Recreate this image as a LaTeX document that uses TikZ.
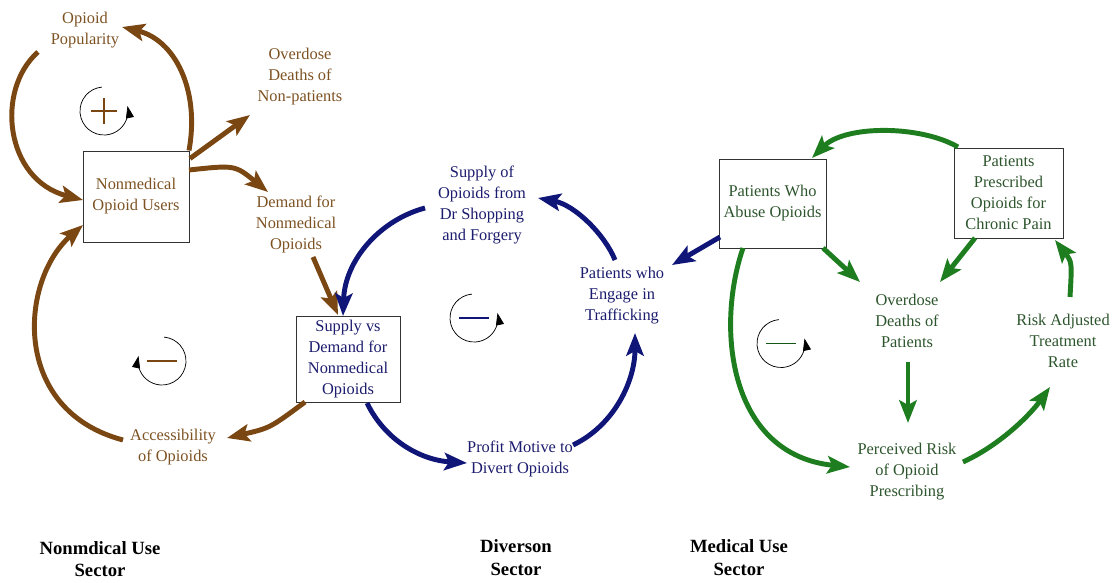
\documentclass[tikz,border=0pt]{standalone}
\usepackage{fontspec}
\setmainfont{Liberation Serif}
\usetikzlibrary{arrows.meta,calc}
\definecolor{brA}{RGB}{122,70,18}
\definecolor{brT}{RGB}{125,82,35}
\definecolor{blA}{RGB}{16,22,120}
\definecolor{blT}{RGB}{28,28,110}
\definecolor{grA}{RGB}{30,125,30}
\definecolor{grT}{RGB}{45,85,45}
\tikzset{
 lbl/.style={align=center,inner sep=0pt,font=\fontsize{12.3}{15.75}\selectfont},
 box/.style={lbl,draw=black!80,line width=0.7pt},
 sec/.style={align=center,inner sep=0pt,font=\fontsize{14}{17}\selectfont\bfseries},
 link/.style={line width=3.7pt,-{Stealth[length=17pt,width=13pt,inset=3.5pt]}},
 loopc/.style={line width=0.55pt,-{Triangle[length=9pt,width=6pt]}},
 sign/.style={line width=1.3pt},
}
\begin{document}
\begin{tikzpicture}[x=0.75pt,y=-0.75pt]
\useasboundingbox (0,0) rectangle (1116,582);
% ---------- nodes ----------
\node[lbl,text=brT] (pop) at (85,30) {Opioid\\Popularity};
\node[lbl,text=brT] (odnp) at (300,77) {Overdose\\Deaths of\\Non-patients};
\node[box,text=brT,minimum width=79.5pt,minimum height=68.25pt] (nou) at (136,196.5) {Nonmedical\\Opioid Users};
\node[lbl,text=brT] (dem) at (296,224) {Demand for\\Nonmedical\\Opioids};
\node[box,text=blT,minimum width=78pt,minimum height=64.5pt] (svd) at (348,359) {Supply vs\\Demand for\\Nonmedical\\Opioids};
\node[lbl,text=brT] (acc) at (173,447) {Accessibility\\of Opioids};
\node[lbl,text=blT] (sup) at (482,204.5) {Supply of\\Opioids from\\Dr Shopping\\and Forgery};
\node[lbl,text=blT] (pwe) at (622,295.5) {Patients who\\Engage in\\Trafficking};
\node[lbl,text=blT] (pro) at (520,458.5) {Profit Motive to\\Divert Opioids};
\node[box,text=grT,minimum width=80.25pt,minimum height=66.75pt] (pwa) at (772.5,203.5) {Patients Who\\Abuse Opioids};
\node[box,text=grT,minimum width=81.75pt,minimum height=67.5pt] (pp) at (1008.5,193) {Patients\\Prescribed\\Opioids for\\Chronic Pain};
\node[lbl,text=grT] (odp) at (907,321) {Overdose\\Deaths of\\Patients};
\node[lbl,text=grT] (rat) at (1063,341) {Risk Adjusted\\Treatment\\Rate};
\node[lbl,text=grT] (per) at (907,472) {Perceived Risk\\of Opioid\\Prescribing};
\node[sec] (nsec) at (100,559) {Nonmdical Use\\Sector};
\node[sec] (dsec) at (516,557.5) {Diverson\\Sector};
\node[sec] (msec) at (739,557.5) {Medical Use\\Sector};
% ---------- brown links ----------
\draw[link,brA] ($(nou)+(53,-46)$) .. controls (200,90) and (175,40) .. ($(pop)+(37,-3)$);
\draw[link,brA] ($(pop)+(-47,22)$) .. controls (-5,90) and (5,180) .. ($(nou)+(-53,3.5)$);
\draw[link,brA] ($(nou)+(54,-38)$) -- ($(odnp)+(-50,38)$);
\draw[link,brA] ($(nou)+(53,-26.5)$) .. controls (235,165) .. ($(dem)+(-28,-32)$);
\draw[link,brA] ($(dem)+(17,33)$) -- ($(svd)+(-10,-44)$);
\draw[link,brA] ($(svd)+(-43,43)$) .. controls (270,428) .. ($(acc)+(54,-9)$);
\draw[link,brA] ($(acc)+(-50,-7)$) .. controls (10,410) and (20,280) .. ($(nou)+(-53,28.5)$);
% ---------- blue links ----------
\draw[link,blA] ($(sup)+(-57,3.5)$) .. controls (380,220) and (345,260) .. ($(svd)+(-5,-43)$);
\draw[link,blA] ($(svd)+(19,44)$) .. controls (385,440) and (420,460) .. ($(pro)+(-53,4.5)$);
\draw[link,blA] ($(pro)+(53,-13.5)$) .. controls (615,425) and (635,380) .. ($(pwe)+(13,37.5)$);
\draw[link,blA] ($(pwe)+(-7,-35.5)$) .. controls (605,235) and (575,205) .. ($(sup)+(56,-6.5)$);
\draw[link,blA] ($(pwa)+(-52.5,33.5)$) -- ($(pwe)+(50,-30.5)$);
% ---------- green links ----------
\draw[link,grA] ($(pp)+(-50.5,-46)$) .. controls (920,125) and (845,125) .. ($(pwa)+(39.5,-45.5)$);
\draw[link,grA] ($(pwa)+(50.5,44.5)$) -- ($(odp)+(-47,-39)$);
\draw[link,grA] ($(pp)+(-33.5,45)$) -- ($(odp)+(33,-39)$);
\draw[link,grA] ($(odp)+(1,41)$) -- ($(per)+(1,-49)$);
\draw[link,grA] ($(pwa)+(-29.5,44.5)$) .. controls (715,330) and (730,455) .. ($(per)+(-57,-5)$);
\draw[link,grA] ($(per)+(56,-10)$) .. controls (1000,445) and (1030,415) .. ($(rat)+(-13,46)$);
\draw[link,grA] ($(rat)+(7,-44)$) .. controls (1072,262) .. ($(pp)+(46.5,47)$);
% ---------- loop markers ----------
\coordinate (L1) at (104,111);
\coordinate (L2) at (162,361);
\coordinate (L3) at (474,318);
\coordinate (L4) at (781,343.5);
\draw[loopc] ($(L1)+(95:18pt)$) arc[start angle=95,end angle=372,radius=18pt];
\draw[sign,brA] ($(L1)+(-13,0)$) -- ($(L1)+(13,0)$);
\draw[sign,brA] ($(L1)+(0,-13)$) -- ($(L1)+(0,13)$);
\draw[loopc] ($(L2)+(85:18pt)$) arc[start angle=85,end angle=-192,radius=18pt];
\draw[sign,brA] ($(L2)+(-15,0)$) -- ($(L2)+(15,0)$);
\draw[loopc] ($(L3)+(95:18pt)$) arc[start angle=95,end angle=372,radius=18pt];
\draw[sign,blA] ($(L3)+(-15,0)$) -- ($(L3)+(15,0)$);
\draw[loopc] ($(L4)+(95:18pt)$) arc[start angle=95,end angle=372,radius=18pt];
\draw[sign,grA!70!black] ($(L4)+(-15,0)$) -- ($(L4)+(15,0)$);
\end{tikzpicture}
\end{document}
